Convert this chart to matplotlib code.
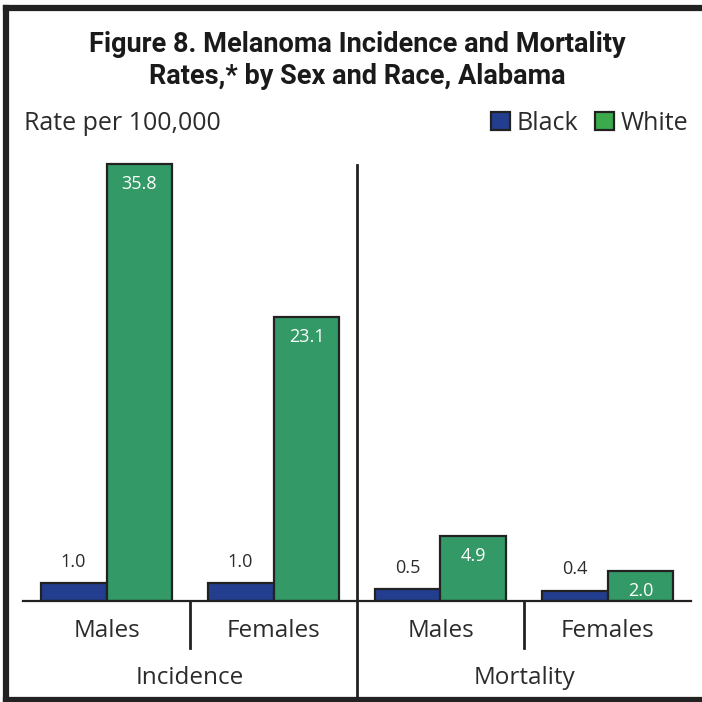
import numpy as np
import matplotlib
matplotlib.use("Agg")
import matplotlib.pyplot as plt
import matplotlib.transforms as mtransforms
from matplotlib.lines import Line2D
from matplotlib.patches import Patch

#~~~~~~~~~~~~~~~~~~~~~~~~~~~~~~~~~~~~~~~~~~~~~~~~~~

# DATA

groups = ["Incidence", "Mortality"]
sexes = ["Males", "Females", "Males", "Females"]
black = np.array([1.0, 1.0, 0.5, 0.4])
white = np.array([35.8, 23.1, 4.9, 2.0])

#~~~~~~~~~~~~~~~~~~~~~~~~~~~~~~~~~~~~~~~~~~~~~~~~~~

# STYLE

BLUE = "#243e8f"
GREEN = "#339966"
GREEN_LEGEND = "#3caa4c"
EDGE = "#222222"
TEXT = "#2b2b2b"
WIDTH = 0.395
BASE = -0.465   # bars start a little below the axis line, like the original

plt.rcParams["font.family"] = ["Open Sans", "DejaVu Sans"]

#~~~~~~~~~~~~~~~~~~~~~~~~~~~~~~~~~~~~~~~~~~~~~~~~~~

# FIGURE AND AXIS

fig = plt.figure(figsize=(7.02, 7.02), dpi=100)
ax = fig.add_axes([23 / 702, 101 / 702, 668 / 702, 451 / 702])

x = np.arange(len(sexes))
ax.bar(x - WIDTH / 2, black - BASE, WIDTH, bottom=BASE, color=BLUE,
       edgecolor=EDGE, linewidth=1.6)
ax.bar(x + WIDTH / 2, white - BASE, WIDTH, bottom=BASE, color=GREEN,
       edgecolor=EDGE, linewidth=1.6)

ax.set_xlim(-0.5, len(sexes) - 0.5)
ax.set_ylim(BASE, 36.96)

for side in ["top", "right", "left"]:
    ax.spines[side].set_visible(False)
ax.spines["bottom"].set_color(EDGE)
ax.spines["bottom"].set_linewidth(1.6)
ax.set_xticks([])
ax.set_yticks([])

#~~~~~~~~~~~~~~~~~~~~~~~~~~~~~~~~~~~~~~~~~~~~~~~~~~

# VALUE LABELS

for i in range(len(sexes)):
    ax.annotate(f"{black[i]:.1f}", (x[i] - WIDTH / 2, black[i]),
                xytext=(0, 9), textcoords="offset points",
                ha="center", va="bottom", fontsize=13, color=TEXT)
    ax.annotate(f"{white[i]:.1f}", (x[i] + WIDTH / 2, white[i]),
                xytext=(0, -8), textcoords="offset points",
                ha="center", va="top", fontsize=13, color="white")

#~~~~~~~~~~~~~~~~~~~~~~~~~~~~~~~~~~~~~~~~~~~~~~~~~~

# CATEGORY LABELS AND DIVIDERS

blend = mtransforms.blended_transform_factory(ax.transData, fig.transFigure)

for i, name in enumerate(sexes):
    ax.text(x[i], 71 / 702, name, transform=blend, ha="center",
            va="center", fontsize=17.5, color=TEXT)

for j, name in enumerate(groups):
    ax.text(2 * j + 0.5, 24 / 702, name, transform=blend, ha="center",
            va="center", fontsize=17.5, color=TEXT)

for pos in [0.5, 2.5]:
    fig.add_artist(Line2D([pos, pos], [101 / 702, 54 / 702], transform=blend,
                          color=EDGE, linewidth=2))

fig.add_artist(Line2D([1.5, 1.5], [537 / 702, 5 / 702], transform=blend,
                      color=EDGE, linewidth=2))

#~~~~~~~~~~~~~~~~~~~~~~~~~~~~~~~~~~~~~~~~~~~~~~~~~~

# TITLE, UNIT, LEGEND

fig.text(357 / 702, 657 / 702, "Figure 8. Melanoma Incidence and Mortality",
         ha="center", va="center", fontsize=19.5, fontweight="bold",
         family=["Roboto", "DejaVu Sans"], color="#1a1a1a")
fig.text(357 / 702, 626 / 702, "Rates,* by Sex and Race, Alabama",
         ha="center", va="center", fontsize=19.5, fontweight="bold",
         family=["Roboto", "DejaVu Sans"], color="#1a1a1a")

fig.text(24 / 702, 579 / 702, "Rate per 100,000", ha="left", va="center",
         fontsize=18, color=TEXT)

handles = [Patch(facecolor=BLUE, edgecolor=EDGE, linewidth=1.6, label="Black"),
           Patch(facecolor=GREEN_LEGEND, edgecolor=EDGE, linewidth=1.6, label="White")]
fig.legend(handles=handles, loc="center right", bbox_to_anchor=(698 / 702, 579 / 702),
           ncol=2, frameon=False, fontsize=18, handlelength=0.75, handleheight=0.75,
           handletextpad=0.25, columnspacing=0.7, borderaxespad=0, labelcolor=TEXT)

#~~~~~~~~~~~~~~~~~~~~~~~~~~~~~~~~~~~~~~~~~~~~~~~~~~

# FRAME

fig.add_artist(Line2D([6 / 702, 1.0], [694 / 702, 694 / 702], color="#222222", linewidth=4.5))
fig.add_artist(Line2D([6 / 702, 6 / 702], [2 / 702, 694 / 702], color="#222222", linewidth=4.5))
fig.add_artist(Line2D([6 / 702, 1.0], [2 / 702, 2 / 702], color="#222222", linewidth=4.5))

fig.savefig("out.png", dpi=100)
